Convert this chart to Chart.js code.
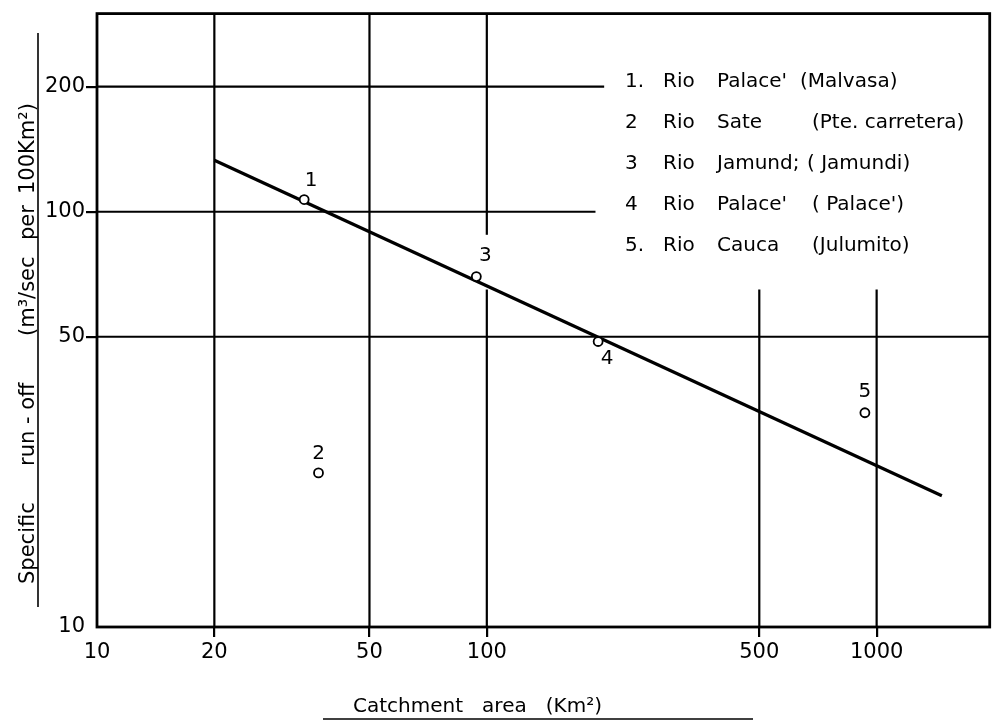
<!DOCTYPE html>
<html>
<head>
<meta charset="utf-8">
<script src="https://cdn.jsdelivr.net/npm/chart.js@4"></script>
<style>
  html, body { margin: 0; padding: 0; background: #fff; }
  canvas { display: block; }
</style>
</head>
<body>
<canvas id="chart" width="996" height="724"></canvas>
<script>
// catchment area (km2) and specific run-off (m3/sec per 100 km2)
const stationIds = ['1', '2', '3', '4', '5']
const stationArea = [34, 37, 94, 193, 933]
const stationRunoff = [107, 23.5, 69.8, 48.7, 32.8]

const trendArea = [20, 1470]
const trendRunoff = [133, 20.7]

const xTicks = [10, 20, 50, 100, 500, 1000]
const yTicks = [10, 50, 100, 200]

const legendNums = ['1.', '2', '3', '4', '5.']
const legendRivers = ['Palace\'', 'Sate', 'Jamund;', 'Palace\'', 'Cauca']
const legendSites = ['(Malvasa)', '(Pte. carretera)', '( Jamundi)', '( Palace\')', '(Julumito)']

// grid segments in data units, the drawing skips the legend and a few labels
const hGrid = [
  { y: 200, x0: 10, x1: 200 },
  { y: 100, x0: 10, x1: 190 },
  { y: 50, x0: 10, x1: 1950 }
]
const vGrid = [
  { x: 20, y0: 10, y1: 300 },
  { x: 50, y0: 10, y1: 300 },
  { x: 100, y0: 10, y1: 65 },
  { x: 100, y0: 88, y1: 300 },
  { x: 500, y0: 10, y1: 65 },
  { x: 1000, y0: 10, y1: 65 }
]

const FONT = '"DejaVu Sans", sans-serif'
const labelOffsets = [[7, -19], [0, -19], [9, -21], [9, 17], [0, -21]]
const legendParenX = [800, 812, 807, 812, 812]
// y title pieces: text and the pixel row where each one starts (reading upward)
const yTitleParts = [['Specific', 584], ['run - off', 466], ['(m³/sec', 336], ['per', 240], ['100Km²)', 194]]

const drawExtras = {
  id: 'drawExtras',
  beforeDatasetsDraw(chart) {
    const { ctx, chartArea: a, scales: { x, y } } = chart
    ctx.save()
    ctx.strokeStyle = '#000'
    ctx.lineWidth = 2.2
    hGrid.forEach(g => {
      const py = y.getPixelForValue(g.y)
      ctx.beginPath()
      ctx.moveTo(x.getPixelForValue(g.x0), py)
      ctx.lineTo(x.getPixelForValue(g.x1), py)
      ctx.stroke()
    })
    vGrid.forEach(g => {
      const px = x.getPixelForValue(g.x)
      ctx.beginPath()
      ctx.moveTo(px, y.getPixelForValue(g.y0))
      ctx.lineTo(px, y.getPixelForValue(g.y1))
      ctx.stroke()
    })
    ctx.lineWidth = 2.8
    ctx.strokeRect(a.left, a.top, a.right - a.left, a.bottom - a.top)
    ctx.restore()
  },
  afterDatasetsDraw(chart) {
    const { ctx, scales: { x, y } } = chart
    ctx.save()
    ctx.fillStyle = '#000'
    ctx.strokeStyle = '#000'

    // point numbers
    ctx.font = '20px ' + FONT
    ctx.textAlign = 'center'
    ctx.textBaseline = 'middle'
    stationIds.forEach((id, i) => {
      const px = x.getPixelForValue(stationArea[i])
      const py = y.getPixelForValue(stationRunoff[i])
      ctx.fillText(id, px + labelOffsets[i][0], py + labelOffsets[i][1])
    })

    // legend
    ctx.textAlign = 'left'
    ctx.font = '20px ' + FONT
    legendNums.forEach((n, i) => {
      const ly = 82 + i * 41
      ctx.fillText(n, 625, ly)
      ctx.fillText('Rio', 663, ly)
      ctx.fillText(legendRivers[i], 717, ly)
      ctx.fillText(legendSites[i], legendParenX[i], ly)
    })

    // x title
    ctx.font = '20px ' + FONT
    ctx.textAlign = 'left'
    ctx.textBaseline = 'alphabetic'
    ctx.fillText('Catchment   area   (Km²)', 353, 712)
    ctx.lineWidth = 1.6
    ctx.beginPath()
    ctx.moveTo(323, 719)
    ctx.lineTo(753, 719)
    ctx.stroke()

    // y title
    ctx.font = '21px ' + FONT
    yTitleParts.forEach(([t, py]) => {
      ctx.save()
      ctx.translate(34, py)
      ctx.rotate(-Math.PI / 2)
      ctx.fillText(t, 0, 0)
      ctx.restore()
    })
    ctx.beginPath()
    ctx.moveTo(38, 33)
    ctx.lineTo(38, 607)
    ctx.stroke()
    ctx.restore()
  }
}

const tickColor = c => (c.tick && c.tick.value === 10 ? 'rgba(0,0,0,0)' : '#000')

new Chart(document.getElementById('chart'), {
  type: 'scatter',
  data: {
    datasets: [
      {
        label: 'Stations',
        data: stationArea.map((v, i) => ({ x: v, y: stationRunoff[i] })),
        pointRadius: 4.5,
        pointBorderWidth: 1.8,
        pointBorderColor: '#000',
        pointBackgroundColor: '#fff',
        order: 0
      },
      {
        label: 'Trend',
        data: trendArea.map((v, i) => ({ x: v, y: trendRunoff[i] })),
        showLine: true,
        borderColor: '#000',
        borderWidth: 3.2,
        pointRadius: 0,
        order: 1
      }
    ]
  },
  options: {
    responsive: false,
    animation: false,
    layout: { padding: { top: 11, right: 3, left: 0, bottom: 0 } },
    plugins: { legend: { display: false }, tooltip: { enabled: false } },
    scales: {
      x: {
        type: 'logarithmic',
        min: 10,
        max: 1950,
        afterBuildTicks: s => { s.ticks = xTicks.map(v => ({ value: v })) },
        afterFit: s => { s.height = 97 },
        border: { display: false },
        grid: { drawOnChartArea: false, tickLength: 10, lineWidth: 2.2, color: tickColor },
        ticks: {
          color: '#000',
          padding: 3,
          maxRotation: 0,
          font: { family: 'DejaVu Sans', size: 21 },
          callback: v => String(v)
        }
      },
      y: {
        type: 'logarithmic',
        min: 10,
        max: 300,
        afterBuildTicks: s => { s.ticks = yTicks.map(v => ({ value: v })) },
        afterFit: s => { s.width = 97 },
        border: { display: false },
        grid: { drawOnChartArea: false, tickLength: 11, lineWidth: 2.2, color: tickColor },
        ticks: {
          color: '#000',
          padding: 1,
          font: { family: 'DejaVu Sans', size: 21 },
          callback: v => String(v)
        }
      }
    }
  },
  plugins: [drawExtras]
})
</script>
</body>
</html>
